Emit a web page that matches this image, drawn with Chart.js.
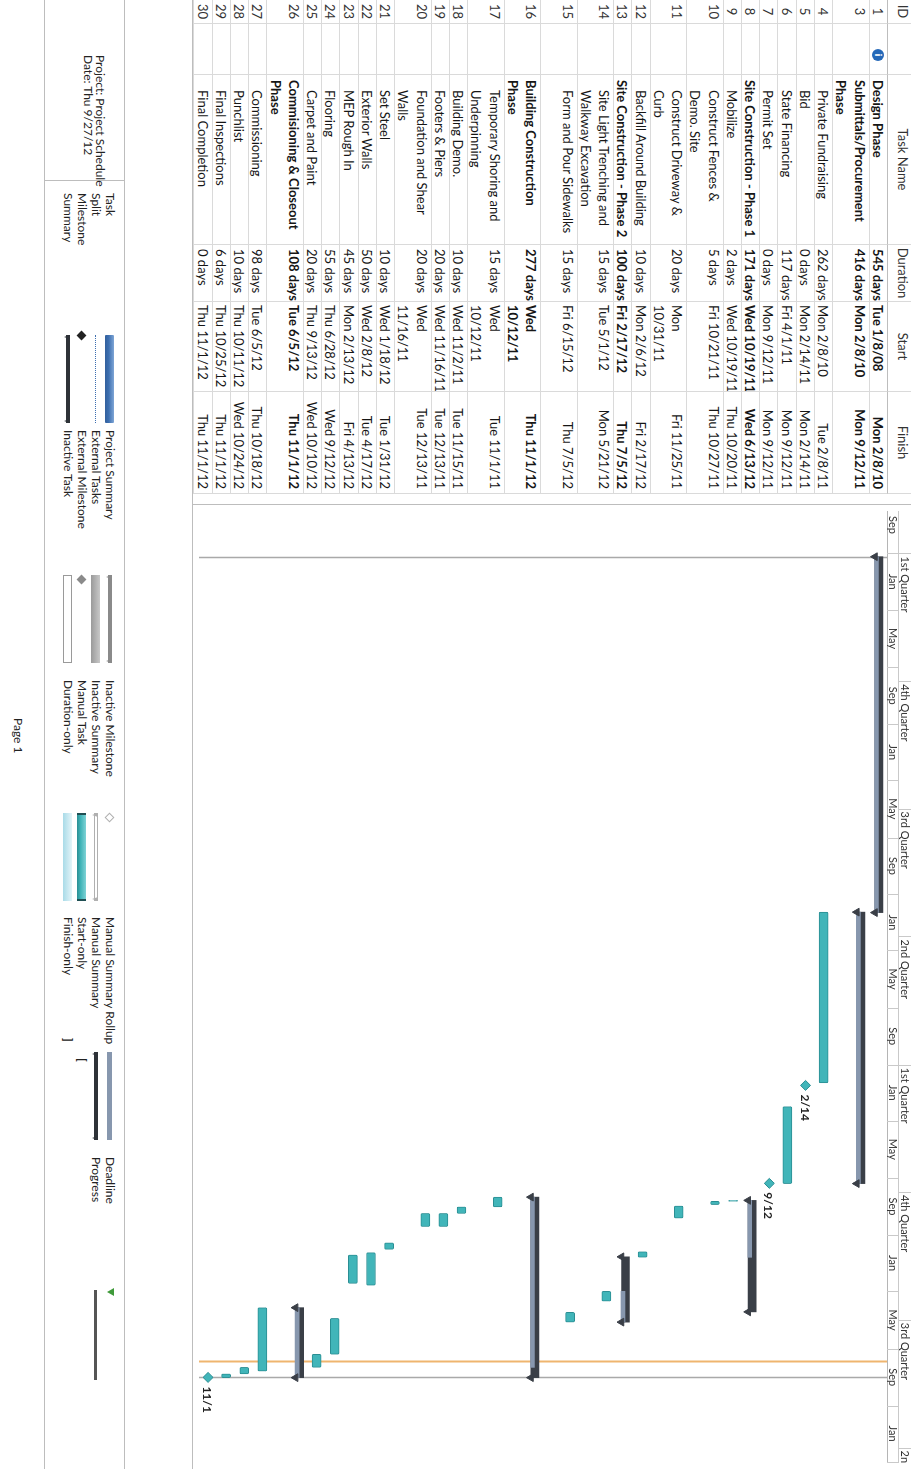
<!DOCTYPE html>
<html>
<head>
<meta charset="utf-8">
<script src="https://cdn.jsdelivr.net/npm/chart.js@4.4.0/dist/chart.umd.min.js"></script>
<style>
html, body { margin: 0; padding: 0; background: #fff; }
body { width: 911px; height: 1469px; overflow: hidden; position: relative; font-family: Lato, "Open Sans", sans-serif; color: #161616; }
#page { position: absolute; left: 0; top: 0; width: 1469px; height: 911px; background: #fff;
  transform-origin: 0 0; transform: translate(911px, 0) rotate(90deg); }
.cell { position: absolute; box-sizing: border-box; overflow: hidden; white-space: pre;
  font-size: 13px; line-height: 18.25px; border-right: 1px solid #dadada; border-bottom: 1px solid #dadada; }
.bold { font-weight: bold; }
.hd { text-align: center; color: #333; line-height: 16px; border-bottom: 1px solid #bdbdbd; }
.info { position: absolute; width: 12px; height: 12px; border-radius: 50%; background: #2468b8; color: #fff;
  font: bold 9px/12px "DejaVu Sans", sans-serif; text-align: center; }
.hline { position: absolute; height: 0; border-top: 1px solid #bdbdbd; }
.vline { position: absolute; width: 0; border-left: 1px solid #bdbdbd; }
.lg { position: absolute; font-size: 12px; line-height: 14px; white-space: nowrap; color: #222; }
.sw { position: absolute; box-sizing: border-box; }
canvas { position: absolute; }
</style>
</head>
<body>
<div id="page">
  <div id="table"></div>
  <canvas id="gantt" width="964" height="718"></canvas>
  <div id="legend"></div>
</div>
<script>
// ---- data read from the schedule ----
const ids = [1, 3, 4, 5, 6, 7, 8, 9, 10, 11, 12, 13, 14, 15, 16, 17, 18, 19, 20, 21, 22, 23, 24, 25, 26, 27, 28, 29, 30];
const names = [
  "Design Phase", "Submittals/Procurement\nPhase", "Private Fundraising", "Bid", "State Financing", "Permit Set",
  "Site Construction - Phase 1", "Mobilize", "Construct Fences &\nDemo. Site", "Construct Driveway &\nCurb",
  "Backfill Around Building", "Site Construction - Phase 2", "Site Light Trenching and\nWalkway Excavation",
  "Form and Pour Sidewalks", "Building Construction\nPhase", "Temporary Shoring and\nUnderpinning",
  "Building Demo.", "Footers & Piers", "Foundation and Shear\nWalls", "Set Steel", "Exterior Walls",
  "MEP Rough In", "Flooring", "Carpet and Paint", "Commisioning & Closeout\nPhase", "Commissioning",
  "Punchlist", "Final Inspections", "Final Completion"
];
const durations = ["545 days", "416 days", "262 days", "0 days", "117 days", "0 days", "171 days", "2 days", "5 days",
  "20 days", "10 days", "100 days", "15 days", "15 days", "277 days", "15 days", "10 days", "20 days", "20 days",
  "10 days", "50 days", "45 days", "55 days", "20 days", "108 days", "98 days", "10 days", "6 days", "0 days"];
const starts = ["Tue 1/8/08", "Mon 2/8/10", "Mon 2/8/10", "Mon 2/14/11", "Fri 4/1/11", "Mon 9/12/11", "Wed 10/19/11",
  "Wed 10/19/11", "Fri 10/21/11", "Mon\n10/31/11", "Mon 2/6/12", "Fri 2/17/12", "Tue 5/1/12", "Fri 6/15/12",
  "Wed\n10/12/11", "Wed\n10/12/11", "Wed 11/2/11", "Wed 11/16/11", "Wed\n11/16/11", "Wed 1/18/12", "Wed 2/8/12",
  "Mon 2/13/12", "Thu 6/28/12", "Thu 9/13/12", "Tue 6/5/12", "Tue 6/5/12", "Thu 10/11/12", "Thu 10/25/12", "Thu 11/1/12"];
const finishes = ["Mon 2/8/10", "Mon 9/12/11", "Tue 2/8/11", "Mon 2/14/11", "Mon 9/12/11", "Mon 9/12/11", "Wed 6/13/12",
  "Thu 10/20/11", "Thu 10/27/11", "Fri 11/25/11", "Fri 2/17/12", "Thu 7/5/12", "Mon 5/21/12", "Thu 7/5/12",
  "Thu 11/1/12", "Tue 11/1/11", "Tue 11/15/11", "Tue 12/13/11", "Tue 12/13/11", "Tue 1/31/12", "Tue 4/17/12",
  "Fri 4/13/12", "Wed 9/12/12", "Wed 10/10/12", "Thu 11/1/12", "Thu 10/18/12", "Wed 10/24/12", "Thu 11/1/12", "Thu 11/1/12"];
const rowLines = [1, 2, 1, 1, 1, 1, 1, 1, 2, 2, 1, 1, 2, 2, 2, 2, 1, 1, 2, 1, 1, 1, 1, 1, 2, 1, 1, 1, 1];
const summaryIds = [1, 3, 8, 13, 16, 26];
const statusDate = "Thu 9/27/12";
const monthNames = ["Jan", "Feb", "Mar", "Apr", "May", "Jun", "Jul", "Aug", "Sep", "Oct", "Nov", "Dec"];
const quarterNames = ["1st Quarter", "2nd Quarter", "3rd Quarter", "4th Quarter"];
const axisFrom = "Tue 10/2/07";
const axisTo = "Sat 5/4/13";

// ---- layout ----
const UNIT = 18.25, HEAD = 24, GX = 505;
const DAY = 86400000;
const teal = "#41b5b9", tealEdge = "#2a8e93", dark = "#3a3f47", rollupBlue = "#8797ae";

function toDay(s) {
  const p = s.trim().split(/\s+/).pop().split("/");
  return Date.UTC(2000 + Number(p[2]), Number(p[0]) - 1, Number(p[1])) / DAY;
}
function shortDate(s) {
  const p = s.trim().split(/\s+/).pop().split("/");
  return p[0] + "/" + p[1];
}

// ---- task table ----
const cols = [
  { left: 0, w: 24, align: "center" },
  { left: 24, w: 51 },
  { left: 75, w: 170 },
  { left: 245, w: 57 },
  { left: 302, w: 90 },
  { left: 392, w: 102, align: "right" }
];
const table = document.getElementById("table");
function cell(text, c, top, h, cls, extra) {
  const d = document.createElement("div");
  d.className = "cell " + (cls || "");
  d.style.left = c.left + "px";
  d.style.width = c.w + "px";
  d.style.top = top + "px";
  d.style.height = h + "px";
  d.style.textAlign = c.align || "left";
  if (extra) Object.assign(d.style, extra);
  d.textContent = text;
  table.appendChild(d);
  return d;
}
["ID", "", "Task Name", "Duration", "Start", "Finish"].forEach((t, k) => {
  cell(t, cols[k], 0, HEAD, "hd", { textAlign: "center" });
});

const rowTop = [];
let u = 0;
ids.forEach((id, i) => {
  rowTop.push(u);
  const top = HEAD + u * UNIT, h = rowLines[i] * UNIT;
  const isSum = summaryIds.includes(id);
  const b = isSum ? "bold" : "";
  cell(String(id), cols[0], top, h, "", { color: "#333" });
  const ind = cell("", cols[1], top, h);
  if (i === 0) {
    const ic = document.createElement("div");
    ic.className = "info";
    ic.textContent = "i";
    ic.style.left = "25px";
    ic.style.top = "3px";
    ind.appendChild(ic);
  }
  cell(names[i], cols[2], top, h, b, { paddingLeft: isSum ? "5px" : "15px" });
  cell(durations[i], cols[3], top, h, b, { paddingLeft: "4px" });
  cell(starts[i], cols[4], top, h, b, { paddingLeft: "3px" });
  cell(finishes[i], cols[5], top, h, b, { paddingRight: "4px" });
  u += rowLines[i];
});
const totalUnits = u;

// ---- gantt datasets ----
const isMilestone = i => durations[i] === "0 days";
const isSummary = i => summaryIds.includes(ids[i]);
const pos = i => rowTop[i] + 0.5;
const px = n => n / UNIT;

const taskBars = [], milestones = [], sumBars = [], rollups = [], caps = [];
ids.forEach((id, i) => {
  const s = toDay(starts[i]), f = toDay(finishes[i]) + 1;
  if (isSummary(i)) {
    sumBars.push({ x: [s, f], y: pos(i) - px(1) });
    // rollup of the subtasks listed under this summary
    let lo = Infinity, hi = -Infinity, j = i + 1;
    while (j < ids.length && !isSummary(j)) {
      lo = Math.min(lo, toDay(starts[j]));
      hi = Math.max(hi, toDay(finishes[j]) + 1);
      j++;
    }
    if (lo === Infinity) { lo = s; hi = f; }
    rollups.push({ x: [lo, hi], y: pos(i) + px(1.5) });
    caps.push({ x: s, y: pos(i) + px(3) }, { x: f, y: pos(i) + px(3) });
  } else if (isMilestone(i)) {
    milestones.push({ x: toDay(starts[i]) + 0.5, y: pos(i), label: shortDate(starts[i]) });
  } else {
    taskBars.push({ x: [s, f], y: pos(i) });
  }
});

// ---- plugins: timescale header, date lines, milestone labels ----
const timescale = {
  id: "timescale",
  afterDraw(chart) {
    const { ctx, chartArea: a, scales: { x } } = chart;
    ctx.save();
    ctx.beginPath();
    ctx.rect(a.left, 0, a.width, HEAD);
    ctx.clip();
    ctx.fillStyle = "#fff";
    ctx.fillRect(a.left, 0, a.width, HEAD);
    ctx.strokeStyle = "#c9c9c9";
    ctx.lineWidth = 1;
    const hl = (yy) => { ctx.beginPath(); ctx.moveTo(a.left, yy); ctx.lineTo(a.right, yy); ctx.stroke(); };
    hl(12.5);
    ctx.strokeStyle = "#b5b5b5";
    hl(HEAD - 0.5);
    ctx.strokeStyle = "#c9c9c9";
    const d0 = new Date(toDay(axisFrom) * DAY), d1 = new Date(toDay(axisTo) * DAY);
    const m0 = d0.getUTCFullYear() * 12 + d0.getUTCMonth();
    const m1 = d1.getUTCFullYear() * 12 + d1.getUTCMonth() + 1;
    const mx = m => x.getPixelForValue(Date.UTC(Math.floor(m / 12), m % 12, 1) / DAY);
    ctx.fillStyle = "#333";
    ctx.font = "11px Lato, sans-serif";
    ctx.textBaseline = "middle";
    // lower tier: every 4 months
    ctx.textAlign = "center";
    for (let m = Math.floor(m0 / 4) * 4; m <= m1; m += 4) {
      const p0 = mx(m), p1 = mx(m + 4);
      ctx.beginPath(); ctx.moveTo(Math.round(p0) + 0.5, 12.5); ctx.lineTo(Math.round(p0) + 0.5, HEAD); ctx.stroke();
      ctx.fillText(monthNames[m % 12], (p0 + p1) / 2, 18.5);
    }
    // upper tier: every third quarter
    ctx.textAlign = "left";
    const anchor = 2008 * 12;
    for (let m = anchor - 9 * Math.ceil((anchor - m0) / 9); m <= m1; m += 9) {
      const p0 = mx(m);
      ctx.beginPath(); ctx.moveTo(Math.round(p0) + 0.5, 0); ctx.lineTo(Math.round(p0) + 0.5, 12.5); ctx.stroke();
      if (p0 >= a.left) ctx.fillText(quarterNames[Math.floor((m % 12) / 3)], p0 + 3, 6.5);
    }
    ctx.restore();
  }
};

const dateLines = {
  id: "dateLines",
  beforeDatasetsDraw(chart) {
    const { ctx, chartArea: a, scales: { x } } = chart;
    const vl = (d, color, w) => {
      const p = Math.round(x.getPixelForValue(d)) + 0.5;
      ctx.strokeStyle = color; ctx.lineWidth = w;
      ctx.beginPath(); ctx.moveTo(p, a.top); ctx.lineTo(p, a.bottom); ctx.stroke();
    };
    ctx.save();
    vl(toDay(starts[0]), "#a9a9a9", 1.5);
    vl(toDay(finishes[finishes.length - 1]), "#a9a9a9", 1.5);
    vl(toDay(statusDate), "#efb56f", 2);
    ctx.restore();
  }
};

const milestoneLabels = {
  id: "milestoneLabels",
  afterDatasetsDraw(chart) {
    const { ctx } = chart;
    const meta = chart.getDatasetMeta(4);
    ctx.save();
    ctx.font = "bold 12px Lato, sans-serif";
    ctx.fillStyle = "#222";
    ctx.textBaseline = "middle";
    meta.data.forEach((pt, k) => ctx.fillText(milestones[k].label, pt.x + 9, pt.y + 1));
    ctx.restore();
  }
};

new Chart(document.getElementById("gantt"), {
  type: "bar",
  data: {
    datasets: [
      { type: "bar", indexAxis: "y", data: sumBars, backgroundColor: dark, barThickness: 8,
        grouped: false, order: 5 },
      { type: "bar", indexAxis: "y", data: rollups, backgroundColor: rollupBlue, barThickness: 4,
        grouped: false, order: 4 },
      { type: "scatter", data: caps, pointStyle: "triangle", pointRotation: 180, pointRadius: 4.5,
        backgroundColor: dark, borderColor: dark, borderWidth: 1, order: 3 },
      { type: "bar", indexAxis: "y", data: taskBars, backgroundColor: teal, borderColor: tealEdge,
        borderWidth: 1, borderSkipped: false, borderRadius: 1.5, barThickness: 9, grouped: false, order: 2 },
      { type: "scatter", data: milestones, pointStyle: "rectRot", pointRadius: 5,
        backgroundColor: teal, borderColor: tealEdge, borderWidth: 1, order: 1 }
    ]
  },
  options: {
    responsive: false,
    animation: false,
    devicePixelRatio: 1,
    layout: { padding: { top: HEAD, left: 0, right: 0, bottom: 0 } },
    plugins: { legend: { display: false }, tooltip: { enabled: false } },
    scales: {
      x: { type: "linear", min: toDay(axisFrom), max: toDay(axisTo), offset: false, display: false,
        grid: { offset: false } },
      y: { type: "linear", min: 0, max: totalUnits, reverse: true, offset: false, display: false,
        grid: { offset: false } }
    }
  },
  plugins: [timescale, dateLines, milestoneLabels]
});
const cv = document.getElementById("gantt");
cv.style.left = GX + "px";
cv.style.top = "0px";

// ---- page frame and legend ----
const lg = document.getElementById("legend");
function add(cls, st, text) {
  const d = document.createElement("div");
  d.className = cls;
  Object.assign(d.style, st);
  if (text) d.textContent = text;
  lg.appendChild(d);
  return d;
}
const tableBottom = HEAD + totalUnits * UNIT;
add("vline", { left: "504px", top: "0px", height: tableBottom + "px" });
add("hline", { left: "0px", top: tableBottom + "px", width: "1469px" });
add("hline", { left: "0px", top: "786px", width: "1469px" });
add("hline", { left: "0px", top: "866px", width: "1469px" });
add("vline", { left: "180px", top: "786px", height: "80px" });
add("lg", { left: "55px", top: "804px" }, "Project: Project Schedule");
add("lg", { left: "55px", top: "816px" }, "Date: " + statusDate);
add("lg", { left: "718px", top: "886px" }, "Page 1");

const legendLabels = [
  ["Task", "Split", "Milestone", "Summary"],
  ["Project Summary", "External Tasks", "External Milestone", "Inactive Task"],
  ["Inactive Milestone", "Inactive Summary", "Manual Task", "Duration-only"],
  ["Manual Summary Rollup", "Manual Summary", "Start-only", "Finish-only"],
  ["Deadline", "Progress"]
];
const labelX = [193, 430, 680, 917, 1157];
const swatchX = [335, 575, 813, 1052, 1290];
const rowY = [801, 815, 829, 843];
legendLabels.forEach((col, c) => col.forEach((t, r) => add("lg", { left: labelX[c] + "px", top: (rowY[r] - 7) + "px" }, t)));

function bar(c, r, w, h, st) {
  return add("sw", Object.assign({ left: swatchX[c] + "px", top: (rowY[r] - h / 2) + "px", width: w + "px", height: h + "px" }, st));
}
function diamond(xx, r, size, st) {
  return add("sw", Object.assign({ left: (xx - size / 2) + "px", top: (rowY[r] - size / 2) + "px", width: size + "px",
    height: size + "px", transform: "rotate(45deg)" }, st));
}
function summaryShape(c, r, color, hollow) {
  bar(c, r, 88, 4, hollow ? { border: "1px solid " + color, background: "#fff" } : { background: color });
  [0, 84].forEach(dx => add("sw", { left: (swatchX[c] + dx) + "px", top: (rowY[r] - 2) + "px", width: 0, height: 0,
    borderLeft: "2.5px solid transparent", borderRight: "2.5px solid transparent", borderTop: "6px solid " + color }));
}
bar(0, 0, 88, 9, { background: "linear-gradient(#7fa6d6,#3d6fb0 60%,#325f9c)", borderRadius: "1px" });
bar(0, 1, 88, 1, { borderTop: "1px dotted #3d6fb0" });
diamond(swatchX[0], 2, 7, { background: "#222" });
summaryShape(0, 3, "#2e3238");
summaryShape(1, 0, "#8a8a8a");
bar(1, 1, 88, 9, { background: "linear-gradient(#c8c8c8,#9a9a9a)" });
diamond(swatchX[1] + 4, 2, 7, { background: "#8a8a8a" });
bar(1, 3, 88, 9, { border: "1px solid #9a9a9a", background: "#fff" });
diamond(swatchX[2] + 4, 0, 7, { border: "1px solid #b0b0b0", background: "#fff" });
summaryShape(2, 1, "#b0b0b0", true);
bar(2, 2, 88, 9, { background: "linear-gradient(#7fd3d6,#3fb3b7 60%,#2a8e93)", borderLeft: "2px solid #1f4f53", borderRight: "2px solid #1f4f53" });
bar(2, 3, 88, 9, { background: "linear-gradient(#e3f4f8,#a9dbe8)" });
bar(3, 0, 88, 5, { background: rollupBlue });
summaryShape(3, 1, "#2e3238");
add("lg", { left: (swatchX[3] + 6) + "px", top: (rowY[2] - 7) + "px", fontWeight: "bold" }, "[");
add("lg", { left: (swatchX[3] - 14) + "px", top: (rowY[3] - 7) + "px", fontWeight: "bold" }, "]");
add("sw", { left: "1288px", top: (rowY[0] - 4) + "px", width: 0, height: 0, borderLeft: "4px solid transparent",
  borderRight: "4px solid transparent", borderTop: "7px solid #3f9a3a" });
bar(4, 1, 90, 3, { background: "#555" });
</script>
</body>
</html>
